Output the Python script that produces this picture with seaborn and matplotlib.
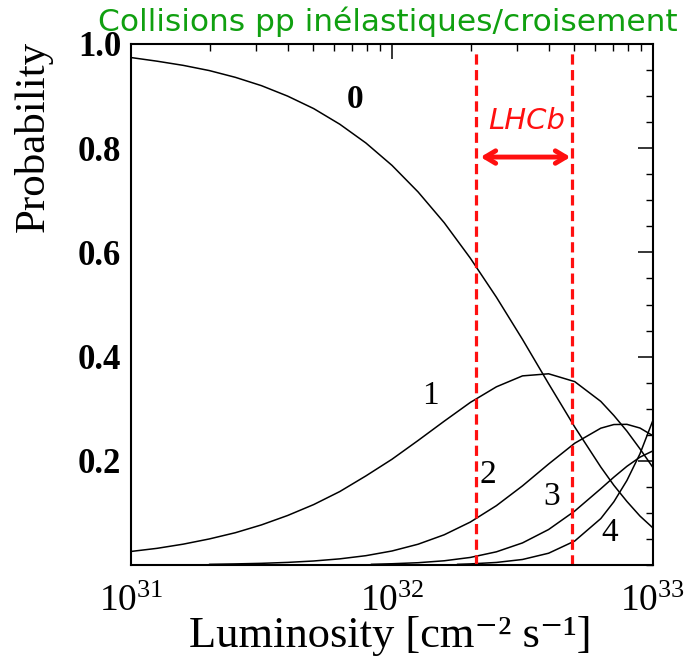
import numpy as np
import pandas as pd
import matplotlib
matplotlib.use("Agg")
import matplotlib.pyplot as plt
import seaborn as sns

# log10 of luminosity [cm^-2 s^-1]
log_lum = [31.0, 31.1, 31.2, 31.3, 31.4, 31.5, 31.6, 31.7, 31.8, 31.9, 32.0,
           32.1, 32.2, 32.3, 32.4, 32.5, 32.6, 32.7, 32.8, 32.85, 32.9, 32.95, 33.0]

# probability of n inelastic pp collisions per bunch crossing
p0 = [0.974, 0.967, 0.959, 0.949, 0.936, 0.920, 0.900, 0.876, 0.846, 0.810, 0.767,
      0.716, 0.657, 0.589, 0.514, 0.433, 0.348, 0.265, 0.188, 0.153, 0.122, 0.094, 0.071]
p1 = [0.026, 0.032, 0.040, 0.050, 0.062, 0.077, 0.095, 0.116, 0.141, 0.171, 0.203,
      0.239, 0.276, 0.312, 0.342, 0.363, 0.367, 0.352, 0.314, 0.287, 0.257, 0.223, 0.187]

log_lum2 = log_lum[3:]
p2 = [0.0013, 0.0021, 0.0032, 0.0050, 0.0077, 0.0118, 0.0179, 0.0269,
      0.0399, 0.0580, 0.0824, 0.1139, 0.1519, 0.1938, 0.2337, 0.2626, 0.2696,
      0.2700, 0.2629, 0.2481]

log_lum3 = [31.92] + log_lum[10:]
p3 = [0.0013, 0.0024, 0.0044, 0.0081, 0.0145, 0.0253, 0.0424, 0.0681,
      0.1035, 0.1464, 0.1686, 0.1894, 0.2070, 0.2191]

# four or more collisions
log_lum4 = [32.25] + log_lum[13:]
p4 = [0.0013, 0.0021, 0.0049, 0.0106, 0.0226, 0.0460, 0.0891, 0.1213, 0.1622,
      0.2133, 0.2780]

# LHCb running range
lhcb_lo, lhcb_hi = 2.1e32, 4.9e32

curve_names = ["0", "1", "2", "3", "4"]
frames = []
for name, xs, ys in zip(curve_names, [log_lum, log_lum, log_lum2, log_lum3, log_lum4],
                        [p0, p1, p2, p3, p4]):
    frames.append(pd.DataFrame({"lum": 10.0 ** np.asarray(xs), "prob": ys, "n": name}))
df = pd.concat(frames, ignore_index=True)

sns.set_style("white")
plt.rcParams["font.family"] = ["Liberation Serif", "DejaVu Serif"]
plt.rcParams["mathtext.fontset"] = "stix"
plt.rcParams["text.color"] = "black"
plt.rcParams["axes.labelcolor"] = "black"
plt.rcParams["xtick.color"] = "black"
plt.rcParams["ytick.color"] = "black"

fig = plt.figure(figsize=(6.91, 6.66), dpi=100)
ax = fig.add_axes([131 / 691, 1 - 565 / 666, (653 - 131) / 691, (565 - 44) / 666])
ax.set_xscale("log")

sns.lineplot(data=df, x="lum", y="prob", hue="n", units="n", estimator=None,
             palette=["black"] * 5, linewidth=1.1, legend=False, sort=False, ax=ax)

ax.set_xlim(1e31, 1e33)
ax.set_ylim(0, 1.0)

# Axis frame and inward ticks on all sides
for s in ax.spines.values():
    s.set_color("black")
    s.set_linewidth(1.5)
ax.tick_params(which="both", direction="in", top=True, right=True, color="black",
               labelcolor="black")
ax.tick_params(which="major", length=11, width=1.1)
ax.tick_params(which="minor", length=5, width=1.0)
ax.xaxis.set_minor_locator(matplotlib.ticker.LogLocator(base=10, subs=np.arange(2, 10), numticks=20))
ax.xaxis.set_minor_formatter(matplotlib.ticker.NullFormatter())
ax.set_xticks([1e31, 1e32, 1e33])
ax.set_xticklabels([r"$\mathregular{10^{31}}$", r"$\mathregular{10^{32}}$", r"$\mathregular{10^{33}}$"],
                   fontsize=27)
ax.tick_params(axis="x", which="major", pad=14)

ax.set_yticks([0.2, 0.4, 0.6, 0.8, 1.0])
ax.set_yticklabels(["0.2", "0.4", "0.6", "0.8", "1.0"], fontsize=25, fontweight="bold")
ax.yaxis.set_minor_locator(matplotlib.ticker.MultipleLocator(0.05))
ax.tick_params(axis="y", which="major", pad=7)

ax.set_xlabel("")
ax.set_ylabel("")
fig.text(390 / 691, 1 - 636 / 666, "Luminosity [cm\u207b\u00b2 s\u207b\u00b9]", fontsize=32,
         ha="center", va="center")
fig.text(33 / 691, 1 - 136 / 666, "Probability", rotation=90, fontsize=31,
         ha="center", va="center")

# LHCb luminosity window
ax.vlines([lhcb_lo, lhcb_hi], 0, 0.988, colors="#ff1010", linewidth=2.3,
          linestyles=[(0, (3.2, 1.7))])
ax.annotate("", xy=(lhcb_lo * 1.04, 0.783), xytext=(lhcb_hi * 0.985, 0.783),
            arrowprops=dict(arrowstyle="<->,head_length=0.75,head_width=0.45",
                            color="#ff1010", lw=3.5, shrinkA=0, shrinkB=0))
ax.text(3.29e32, 0.852, "LHCb", color="#ff1010", fontsize=21,
        family="DejaVu Sans", ha="center", va="center", style="italic")

# Multiplicity labels
ax.text(7.2e31, 0.893, "0", fontsize=24, fontweight="bold", ha="center", va="center")
ax.text(1.40e32, 0.324, "1", fontsize=24, ha="center", va="center")
ax.text(2.33e32, 0.173, "2", fontsize=24, ha="center", va="center")
ax.text(4.10e32, 0.131, "3", fontsize=24, ha="center", va="center")
ax.text(6.84e32, 0.061, "4", fontsize=24, ha="center", va="center")

fig.text(388 / 691, 1 - 22 / 666, "Collisions pp inélastiques/croisement",
         color="#10a010", fontsize=22.5, family="DejaVu Sans", ha="center", va="center")

fig.savefig("out.png", dpi=100, facecolor="white")
